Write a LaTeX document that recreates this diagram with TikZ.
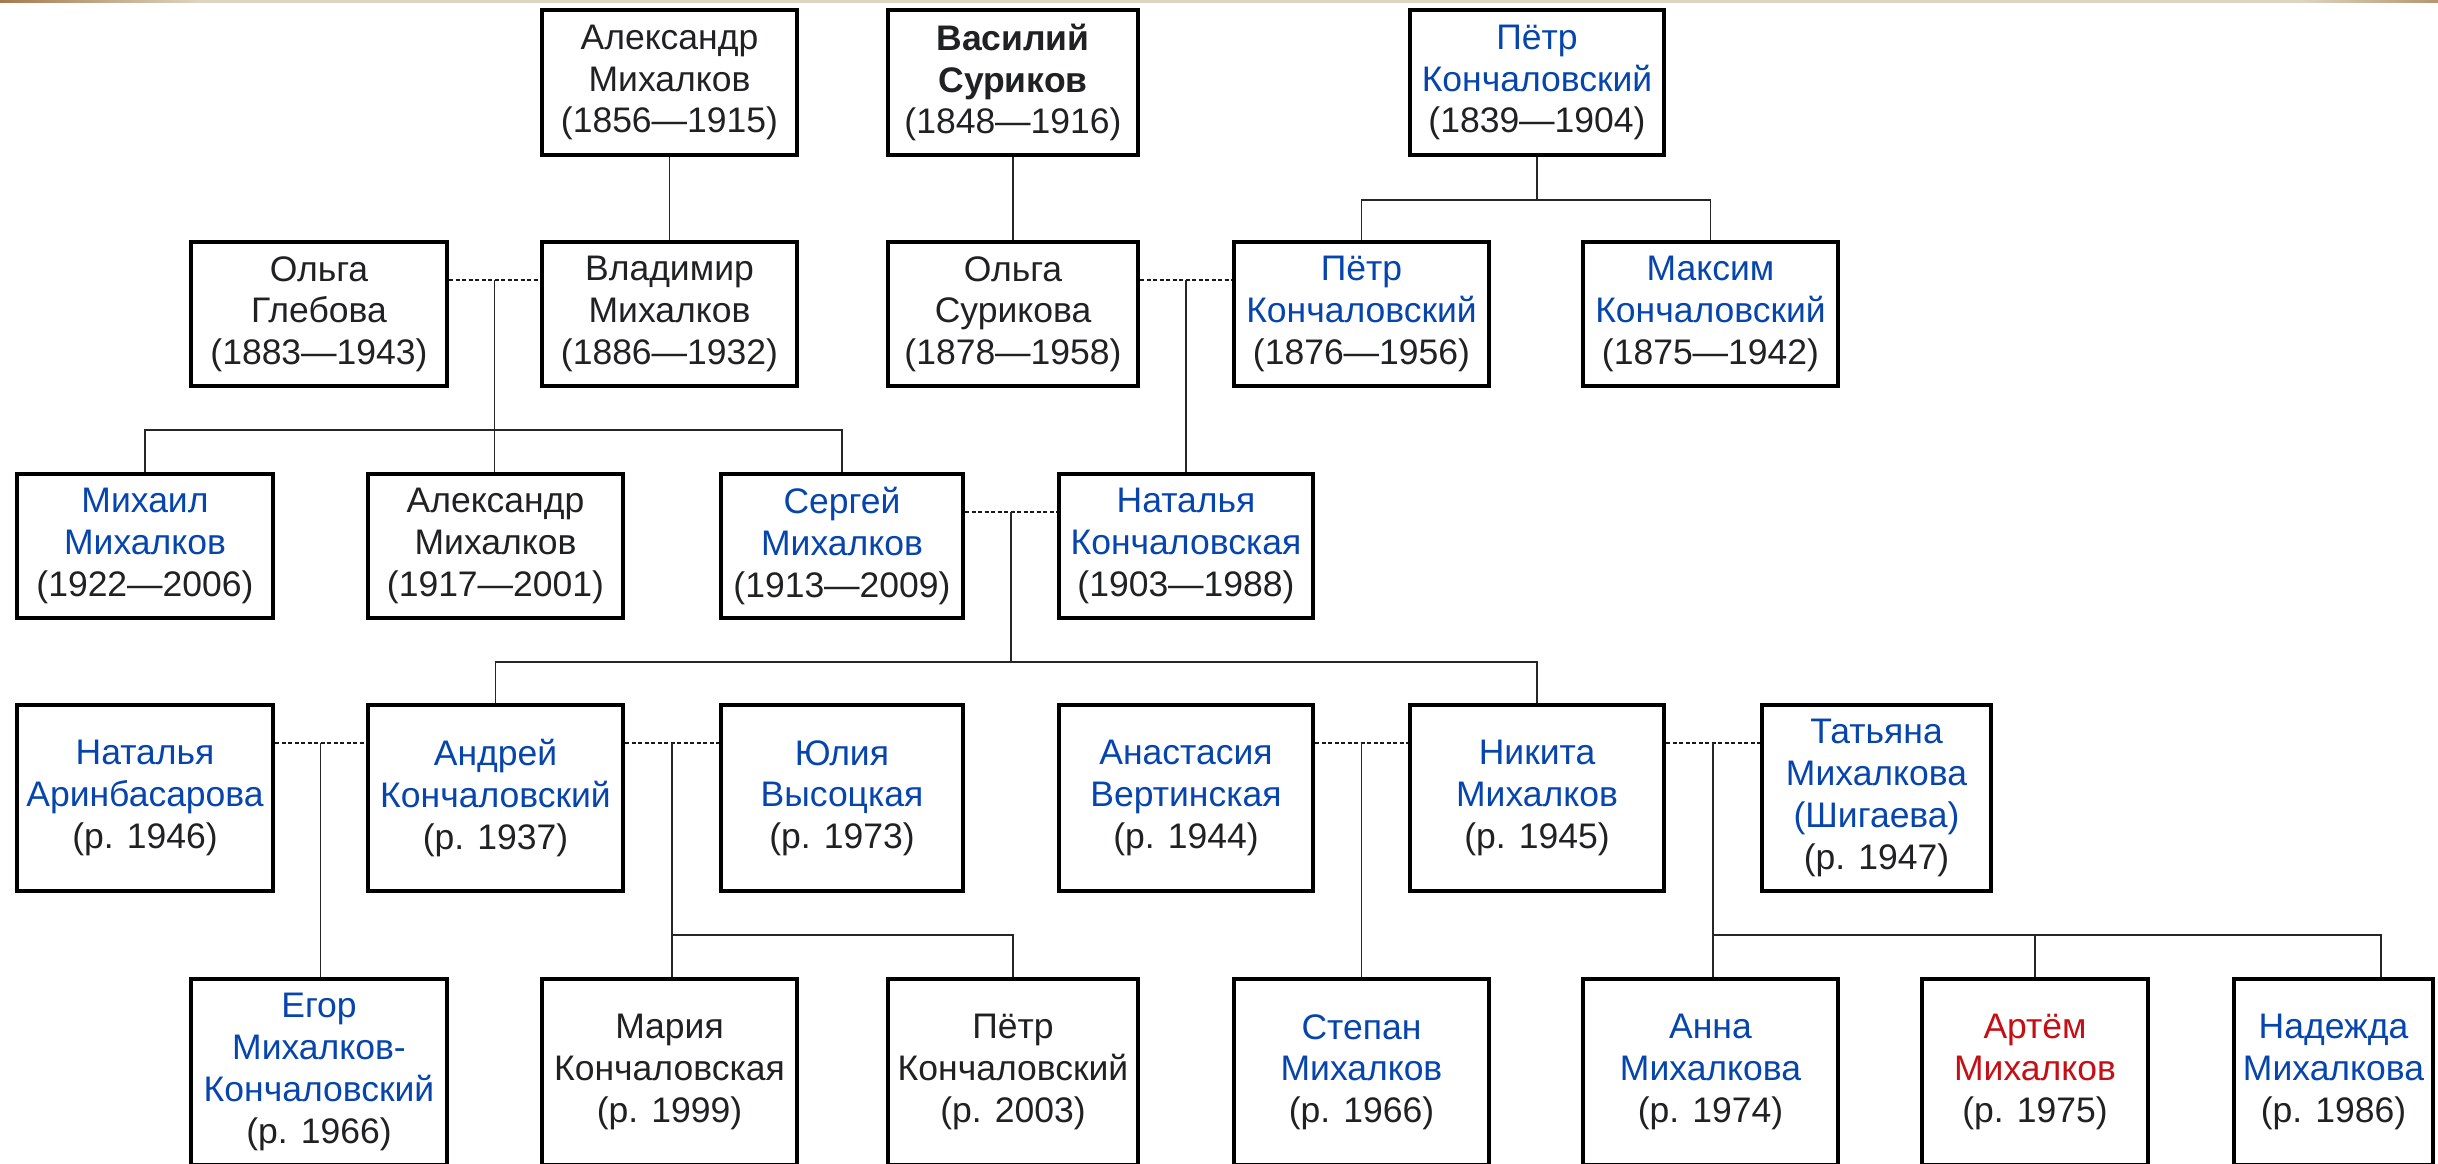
\documentclass[tikz,border=0pt]{standalone}
\usepackage{fontspec}
\setmainfont{Liberation Sans}
\definecolor{wblue}{HTML}{0645AD}
\definecolor{wred}{HTML}{C40F14}
\definecolor{wtext}{HTML}{202122}
\definecolor{stripA}{HTML}{A57A4E}
\definecolor{stripB}{HTML}{DDD5C0}
\newcommand\nmb[1]{\textcolor{wblue}{#1}}
\newcommand\nmr[1]{\textcolor{wred}{#1}}
\tikzset{
  person/.style={draw=black, line width=4pt, rectangle, inner sep=0pt, align=center,
    fill=white, text=wtext, font=\fontsize{35.5}{41.7}\selectfont},
  marr/.style={draw=black!90, line width=2pt, dash pattern=on 4pt off 2.5pt},
  link/.style={draw=black!85, line width=1.7pt}
}
\newcommand\famnode[6]{\node[person, minimum width={#4-#2-4}, minimum height={#5-#3-4}] (#1) at ({(#2+#4)/2},{(#3+#5)/2}) {#6};}
\begin{document}
\begin{tikzpicture}[x=1pt,y=-1pt]
\useasboundingbox (0,0) rectangle (2438,1164);
\fill[white] (0,0) rectangle (2438,1164);
% top strip
\shade[left color=stripA, right color=stripB] (0,0) rectangle (200,3);
\fill[stripB] (200,0) rectangle (2300,3);
\shade[left color=stripB, right color=stripA!70!stripB] (2300,0) rectangle (2438,3);

% ---------- connectors (drawn first, boxes on top) ----------
\coordinate (bus1) at (1537,200);
\coordinate (m1) at (494.5,280);
\coordinate (b1) at (494.5,430);
\coordinate (m2) at (1186,280);
\coordinate (m3) at (1011,512);
\coordinate (b3) at (1011,662);
\coordinate (m4) at (320.5,743);
\coordinate (m5) at (672,743);
\coordinate (b5) at (672,935);
\coordinate (m6) at (1361.5,743);
\coordinate (m7) at (1713,743);
\coordinate (b7) at (1713,935);
\coordinate (nadtop) at (2381,977);

% ---------- boxes ----------
% row 1
\famnode{alexA}{540}{8}{799}{157}{Александр\\Михалков\\(1856—1915)}
\famnode{vasily}{886}{8}{1140}{157}{\textbf{Василий}\\\textbf{Суриков}\\(1848—1916)}
\famnode{petrA}{1408}{8}{1666}{157}{\nmb{Пётр}\\\nmb{Кончаловский}\\(1839—1904)}
% row 2
\famnode{glebova}{189}{240}{449}{388}{Ольга\\Глебова\\(1883—1943)}
\famnode{vlad}{540}{240}{799}{388}{Владимир\\Михалков\\(1886—1932)}
\famnode{olgaS}{886}{240}{1140}{388}{Ольга\\Сурикова\\(1878—1958)}
\famnode{petrB}{1232}{240}{1491}{388}{\nmb{Пётр}\\\nmb{Кончаловский}\\(1876—1956)}
\famnode{maxim}{1581}{240}{1840}{388}{\nmb{Максим}\\\nmb{Кончаловский}\\(1875—1942)}
% row 3
\famnode{mikhail}{15}{472}{275}{620}{\nmb{Михаил}\\\nmb{Михалков}\\(1922—2006)}
\famnode{alexB}{366}{472}{625}{620}{Александр\\Михалков\\(1917—2001)}
\famnode{sergey}{719}{472}{965}{620}{\nmb{Сергей}\\\nmb{Михалков}\\(1913—2009)}
\famnode{natK}{1057}{472}{1315}{620}{\nmb{Наталья}\\\nmb{Кончаловская}\\(1903—1988)}
% row 4
\famnode{natA}{15}{703}{275}{893}{\nmb{Наталья}\\\nmb{Аринбасарова}\\(р. 1946)}
\famnode{andrey}{366}{703}{625}{893}{\nmb{Андрей}\\\nmb{Кончаловский}\\(р. 1937)}
\famnode{yulia}{719}{703}{965}{893}{\nmb{Юлия}\\\nmb{Высоцкая}\\(р. 1973)}
\famnode{anast}{1057}{703}{1315}{893}{\nmb{Анастасия}\\\nmb{Вертинская}\\(р. 1944)}
\famnode{nikita}{1408}{703}{1666}{893}{\nmb{Никита}\\\nmb{Михалков}\\(р. 1945)}
\famnode{tatiana}{1760}{703}{1993}{893}{\nmb{Татьяна}\\\nmb{Михалкова}\\\nmb{(Шигаева)}\\(р. 1947)}
% row 5
\famnode{egor}{189}{977}{449}{1167}{\nmb{Егор}\\\nmb{Михалков-}\\\nmb{Кончаловский}\\(р. 1966)}
\famnode{maria}{540}{977}{799}{1167}{Мария\\Кончаловская\\(р. 1999)}
\famnode{petrC}{886}{977}{1140}{1167}{Пётр\\Кончаловский\\(р. 2003)}
\famnode{stepan}{1232}{977}{1491}{1167}{\nmb{Степан}\\\nmb{Михалков}\\(р. 1966)}
\famnode{anna}{1581}{977}{1840}{1167}{\nmb{Анна}\\\nmb{Михалкова}\\(р. 1974)}
\famnode{artem}{1920}{977}{2150}{1167}{\nmr{Артём}\\\nmr{Михалков}\\(р. 1975)}
\famnode{nadezhda}{2232}{977}{2435}{1167}{\nmb{Надежда}\\\nmb{Михалкова}\\(р. 1986)}

% ---------- connectors ----------
\draw[link] (alexA.south) -- (vlad.north);
\draw[link] (vasily.south) -- (olgaS.north);
\draw[link] (petrA.south) -- (bus1);
\draw[link] (petrB.north) |- (bus1) -| (maxim.north);

\draw[marr] (glebova.east |- m1) -- (vlad.west |- m1);
\draw[link] (m1) -- (m1 |- alexB.north);
\draw[link] (mikhail.north) |- (b1) -| (sergey.north);

\draw[marr] (olgaS.east |- m2) -- (petrB.west |- m2);
\draw[link] (m2) -- (m2 |- natK.north);

\draw[marr] (sergey.east |- m3) -- (natK.west |- m3);
\draw[link] (m3) -- (b3);
\draw[link] (andrey.north) |- (b3) -| (nikita.north);

\draw[marr] (natA.east |- m4) -- (andrey.west |- m4);
\draw[link] (m4) -- (m4 |- egor.north);

\draw[marr] (andrey.east |- m5) -- (yulia.west |- m5);
\draw[link] (m5) -- (m5 |- maria.north);
\draw[link] (b5) -| (petrC.north);

\draw[marr] (anast.east |- m6) -- (nikita.west |- m6);
\draw[link] (m6) -- (m6 |- stepan.north);

\draw[marr] (nikita.east |- m7) -- (tatiana.west |- m7);
\draw[link] (m7) -- (m7 |- anna.north);
\draw[link] (b7) -| (artem.north);
\draw[link] (b7) -| (nadtop);
\end{tikzpicture}
\end{document}
